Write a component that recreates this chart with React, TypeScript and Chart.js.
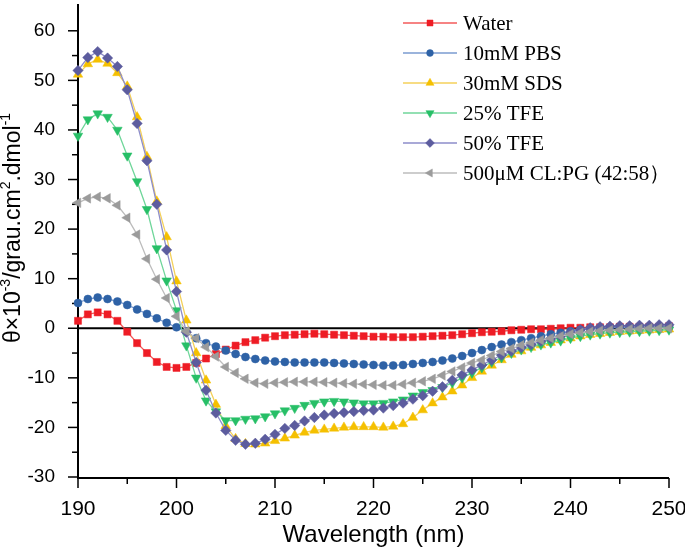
import React, { useEffect, useRef } from "react";
import { Chart, registerables } from "chart.js";
import { drawPoint } from "chart.js/helpers";

Chart.register(...registerables);

const WAVELENGTHS = [
  190, 191, 192, 193, 194, 195, 196, 197, 198, 199,
  200, 201, 202, 203, 204, 205, 206, 207, 208, 209,
  210, 211, 212, 213, 214, 215, 216, 217, 218, 219,
  220, 221, 222, 223, 224, 225, 226, 227, 228, 229,
  230, 231, 232, 233, 234, 235, 236, 237, 238, 239,
  240, 241, 242, 243, 244, 245, 246, 247, 248, 249,
  250,
];

const WATER = [
  1.5, 2.8, 3.2, 2.8, 1.5, -0.7, -3.0, -5.0, -6.8, -7.8,
  -8.0, -7.8, -7.0, -6.1, -5.2, -4.3, -3.5, -2.8, -2.4, -1.9,
  -1.6, -1.4, -1.3, -1.2, -1.1, -1.2, -1.3, -1.4, -1.5, -1.6,
  -1.7, -1.7, -1.8, -1.8, -1.8, -1.7, -1.6, -1.5, -1.4, -1.2,
  -1.0, -0.8, -0.7, -0.6, -0.4, -0.3, -0.2, -0.2, -0.1, 0.0,
  0.1, 0.1, 0.2, 0.2, 0.2, 0.3, 0.3, 0.3, 0.3, 0.3,
  0.4,
];

const PBS = [
  5.1, 5.9, 6.2, 5.9, 5.4, 4.7, 3.8, 2.9, 2.0, 1.1,
  0.2, -0.7, -2.0, -3.0, -3.7, -4.5, -5.2, -5.8, -6.2, -6.5,
  -6.7, -6.8, -6.9, -6.9, -6.9, -6.9, -7.0, -7.1, -7.2, -7.3,
  -7.4, -7.5, -7.5, -7.4, -7.2, -7.0, -6.8, -6.5, -6.1, -5.6,
  -5.0, -4.4, -3.8, -3.3, -2.8, -2.4, -2.0, -1.6, -1.2, -0.9,
  -0.6, -0.3, -0.1, 0.0, 0.1, 0.2, 0.2, 0.3, 0.3, 0.3,
  0.3,
];

const SDS = [
  51.2, 53.3, 54.2, 53.4, 51.5, 48.8, 42.6, 34.6, 25.6, 18.4,
  9.5, 1.6, -5.0, -10.5, -15.4, -19.7, -22.3, -23.3, -23.4, -23.2,
  -22.7, -22.2, -21.6, -21.0, -20.6, -20.4, -20.2, -20.0, -19.9, -19.9,
  -19.9, -20.0, -19.8, -19.3, -18.0, -16.5, -15.1, -13.9, -12.7, -11.5,
  -10.0, -8.7, -7.5, -6.4, -5.3, -4.6, -3.9, -3.4, -2.9, -2.4,
  -2.0, -1.6, -1.3, -1.1, -0.9, -0.7, -0.6, -0.5, -0.4, -0.3,
  -0.2,
];

const TFE25 = [
  38.8, 42.1, 43.3, 42.6, 40.0, 34.8, 29.6, 24.0, 16.1, 9.6,
  3.6, -3.5, -10.0, -14.6, -16.8, -18.6, -18.6, -18.3, -18.2, -17.8,
  -17.2, -16.6, -16.1, -15.5, -15.1, -14.8, -14.7, -14.8, -15.0, -15.2,
  -15.2, -15.1, -14.8, -14.4, -13.6, -12.9, -12.5, -11.9, -11.0, -10.0,
  -9.0, -7.9, -6.8, -5.9, -5.0, -4.3, -3.8, -3.3, -2.9, -2.5,
  -2.0, -1.6, -1.3, -1.1, -0.9, -0.8, -0.7, -0.6, -0.5, -0.4,
  -0.3,
];

const TFE50 = [
  52.0, 54.6, 55.8, 54.5, 52.8, 48.1, 41.3, 33.8, 25.0, 15.8,
  7.4, -0.8, -6.9, -12.5, -17.1, -20.6, -22.6, -23.4, -23.2, -22.4,
  -21.4, -20.2, -19.6, -18.7, -18.0, -17.5, -17.2, -17.0, -16.8, -16.6,
  -16.5, -16.1, -15.6, -15.1, -14.3, -13.6, -12.7, -11.8, -10.5, -9.4,
  -8.4, -7.4, -6.4, -5.4, -4.6, -3.9, -3.3, -2.6, -2.1, -1.6,
  -0.9, -0.3, 0.1, 0.3, 0.4, 0.5, 0.5, 0.6, 0.6, 0.7,
  0.7,
];

const CLPG = [
  25.3, 26.2, 26.5, 26.2, 24.8, 22.3, 18.9, 14.0, 9.9, 6.1,
  2.4, -0.6, -2.0, -3.8, -5.7, -7.8, -9.0, -10.2, -11.0, -11.2,
  -11.0, -10.9, -10.8, -10.8, -10.8, -10.9, -11.0, -11.1, -11.2, -11.3,
  -11.4, -11.5, -11.5, -11.3, -11.0, -10.7, -10.2, -9.5, -8.7, -7.9,
  -7.0, -6.4, -5.5, -4.7, -4.1, -3.4, -2.9, -2.4, -2.0, -1.6,
  -1.2, -0.9, -0.7, -0.5, -0.4, -0.3, -0.2, -0.1, 0.0, 0.0,
  0.0,
];

const SERIES_LABELS = [
  "Water",
  "10mM PBS",
  "30mM SDS",
  "25% TFE",
  "50% TFE",
  "500\u03bcM CL:PG (42:58\uff09",
];
const SERIES_VALUES = [WATER, PBS, SDS, TFE25, TFE50, CLPG];

const X_TICK_LABELS = [190, 200, 210, 220, 230, 240, 250];
const Y_TICK_LABELS = [-30, -20, -10, 0, 10, 20, 30, 40, 50, 60];

const X_MIN = 190;
const X_MAX = 250;
const Y_MIN = -30;
const Y_MAX = 65;

const STYLES = [
  { line: "rgba(240,60,60,0.85)", marker: "#ee1c25", pointStyle: "rect", radius: 5, rotation: 0 },
  { line: "#7a9bd0", marker: "#2e62a6", pointStyle: "circle", radius: 4, rotation: 0 },
  { line: "#f4d05a", marker: "#f5c000", pointStyle: "triangle", radius: 5.5, rotation: 0 },
  { line: "#6fd69a", marker: "#27bf67", pointStyle: "triangle", radius: 5.5, rotation: 180 },
  { line: "#8d8dca", marker: "#5c5c9e", pointStyle: "rectRot", radius: 5.2, rotation: 0 },
  { line: "#bcbcbc", marker: "#9b9b9b", pointStyle: "triangle", radius: 5.5, rotation: 270 },
];

const SANS = "'Liberation Sans', Arial, sans-serif";
const SERIF = "'Liberation Serif', 'Times New Roman', serif";

const decorPlugin = {
  id: "decor",
  beforeDatasetsDraw(chart: any) {
    const { ctx, chartArea, scales } = chart;
    const xs = scales.x;
    const ys = scales.y;
    ctx.save();
    ctx.strokeStyle = "#000";
    ctx.lineWidth = 2;
    const y0 = ys.getPixelForValue(0);
    ctx.beginPath();
    ctx.moveTo(chartArea.left, y0);
    ctx.lineTo(chartArea.right, y0);
    ctx.stroke();
    ctx.lineWidth = 2;
    ctx.beginPath();
    ctx.moveTo(chartArea.left, chartArea.top - 2);
    ctx.lineTo(chartArea.left, chartArea.bottom + 1);
    ctx.lineTo(chartArea.right, chartArea.bottom + 1);
    ctx.stroke();
    ctx.lineWidth = 1.5;
    for (let v = Y_MIN; v <= 60; v += 5) {
      const py = ys.getPixelForValue(v);
      const len = Y_TICK_LABELS.includes(v) ? 10 : 6;
      ctx.beginPath();
      ctx.moveTo(chartArea.left - len, py);
      ctx.lineTo(chartArea.left, py);
      ctx.stroke();
    }
    for (let v = X_MIN; v <= X_MAX; v += 5) {
      const px = xs.getPixelForValue(v);
      const len = X_TICK_LABELS.includes(v) ? 10 : 6;
      ctx.beginPath();
      ctx.moveTo(px, chartArea.bottom + 1);
      ctx.lineTo(px, chartArea.bottom + 1 + len);
      ctx.stroke();
    }
    ctx.restore();
  },
  afterDraw(chart: any) {
    const { ctx, chartArea } = chart;
    ctx.save();
    ctx.fillStyle = "#000";
    ctx.font = `24px ${SANS}`;
    ctx.textAlign = "center";
    ctx.textBaseline = "middle";
    ctx.fillText("Wavelength (nm)", (chartArea.left + chartArea.right) / 2, 535);

    const parts: [string, boolean][] = [
      ["\u03b8\u00d710", false],
      ["-3", true],
      ["/grau.cm", false],
      ["2", true],
      [".dmol", false],
      ["-1", true],
    ];
    const big = `23px ${SANS}`;
    const small = `14px ${SANS}`;
    let total = 0;
    for (const [t, sup] of parts) {
      ctx.font = sup ? small : big;
      total += ctx.measureText(t).width;
    }
    ctx.translate(14, 228);
    ctx.rotate(-Math.PI / 2);
    ctx.textAlign = "left";
    ctx.textBaseline = "middle";
    let cx = -total / 2;
    for (const [t, sup] of parts) {
      ctx.font = sup ? small : big;
      ctx.fillText(t, cx, sup ? -8 : 0);
      cx += ctx.measureText(t).width;
    }
    ctx.setTransform(1, 0, 0, 1, 0, 0);
    ctx.restore();

    ctx.save();
    const lx0 = 403;
    const lx1 = 457;
    const tx = 463;
    SERIES_LABELS.forEach((label, i) => {
      const st = STYLES[i];
      const y = 23 + i * 30;
      ctx.strokeStyle = st.line;
      ctx.lineWidth = 1.5;
      ctx.beginPath();
      ctx.moveTo(lx0, y);
      ctx.lineTo(lx1, y);
      ctx.stroke();
      ctx.fillStyle = st.marker;
      ctx.strokeStyle = st.marker;
      ctx.lineWidth = 0.5;
      drawPoint(
        ctx,
        { pointStyle: st.pointStyle, rotation: st.rotation, radius: st.radius * 0.85, borderWidth: 0.5 } as any,
        (lx0 + lx1) / 2,
        y
      );
      ctx.fillStyle = "#000";
      ctx.font = `21px ${SERIF}`;
      ctx.textAlign = "left";
      ctx.textBaseline = "middle";
      ctx.fillText(label, tx, y + 1);
    });
    ctx.restore();
  },
};

export default function App() {
  const canvasRef = useRef<HTMLCanvasElement | null>(null);

  useEffect(() => {
    const canvas = canvasRef.current;
    if (!canvas) return;
    const datasets = SERIES_VALUES.map((vals, i) => {
      const st = STYLES[i];
      return {
        label: SERIES_LABELS[i],
        data: WAVELENGTHS.map((x, j) => ({ x, y: vals[j] })),
        borderColor: st.line,
        borderWidth: 1.3,
        backgroundColor: st.marker,
        pointBackgroundColor: st.marker,
        pointBorderColor: st.marker,
        pointBorderWidth: 0.5,
        pointStyle: st.pointStyle,
        pointRotation: st.rotation,
        pointRadius: st.radius,
        tension: 0,
        fill: false,
        clip: false as any,
        order: SERIES_VALUES.length - i,
      };
    });

    const chart = new Chart(canvas, {
      type: "line",
      data: { datasets: datasets as any },
      options: {
        animation: false,
        responsive: false,
        events: [],
        layout: { padding: { top: 2, right: 16, bottom: 0, left: 0 } },
        plugins: {
          legend: { display: false },
          tooltip: { enabled: false },
          title: { display: false },
        },
        scales: {
          x: {
            type: "linear",
            min: X_MIN,
            max: X_MAX,
            grid: { display: false },
            border: { display: false },
            ticks: {
              stepSize: 10,
              autoSkip: false,
              maxRotation: 0,
              padding: 12,
              color: "#000",
              font: { family: SANS, size: 21 },
              callback: (v: any) => (X_TICK_LABELS.includes(Number(v)) ? String(v) : ""),
            },
            afterFit: (s: any) => {
              s.height = 76;
              s.paddingLeft = 0;
              s.paddingRight = 0;
            },
          },
          y: {
            type: "linear",
            min: Y_MIN,
            max: Y_MAX,
            grid: { display: false },
            border: { display: false },
            ticks: {
              stepSize: 5,
              autoSkip: false,
              padding: 15,
              color: "#000",
              font: { family: SANS, size: 19 },
              callback: (v: any) => (Y_TICK_LABELS.includes(Number(v)) ? String(v) : ""),
            },
            afterFit: (s: any) => {
              s.width = 78;
              s.paddingTop = 0;
              s.paddingBottom = 0;
            },
          },
        },
      },
      plugins: [decorPlugin],
    });
    return () => chart.destroy();
  }, []);

  return (
    <div style={{ position: "fixed", left: 0, top: 0, width: 685, height: 553, background: "#fff" }}>
      <canvas ref={canvasRef} width={685} height={553} style={{ display: "block", width: 685, height: 553 }} />
    </div>
  );
}
